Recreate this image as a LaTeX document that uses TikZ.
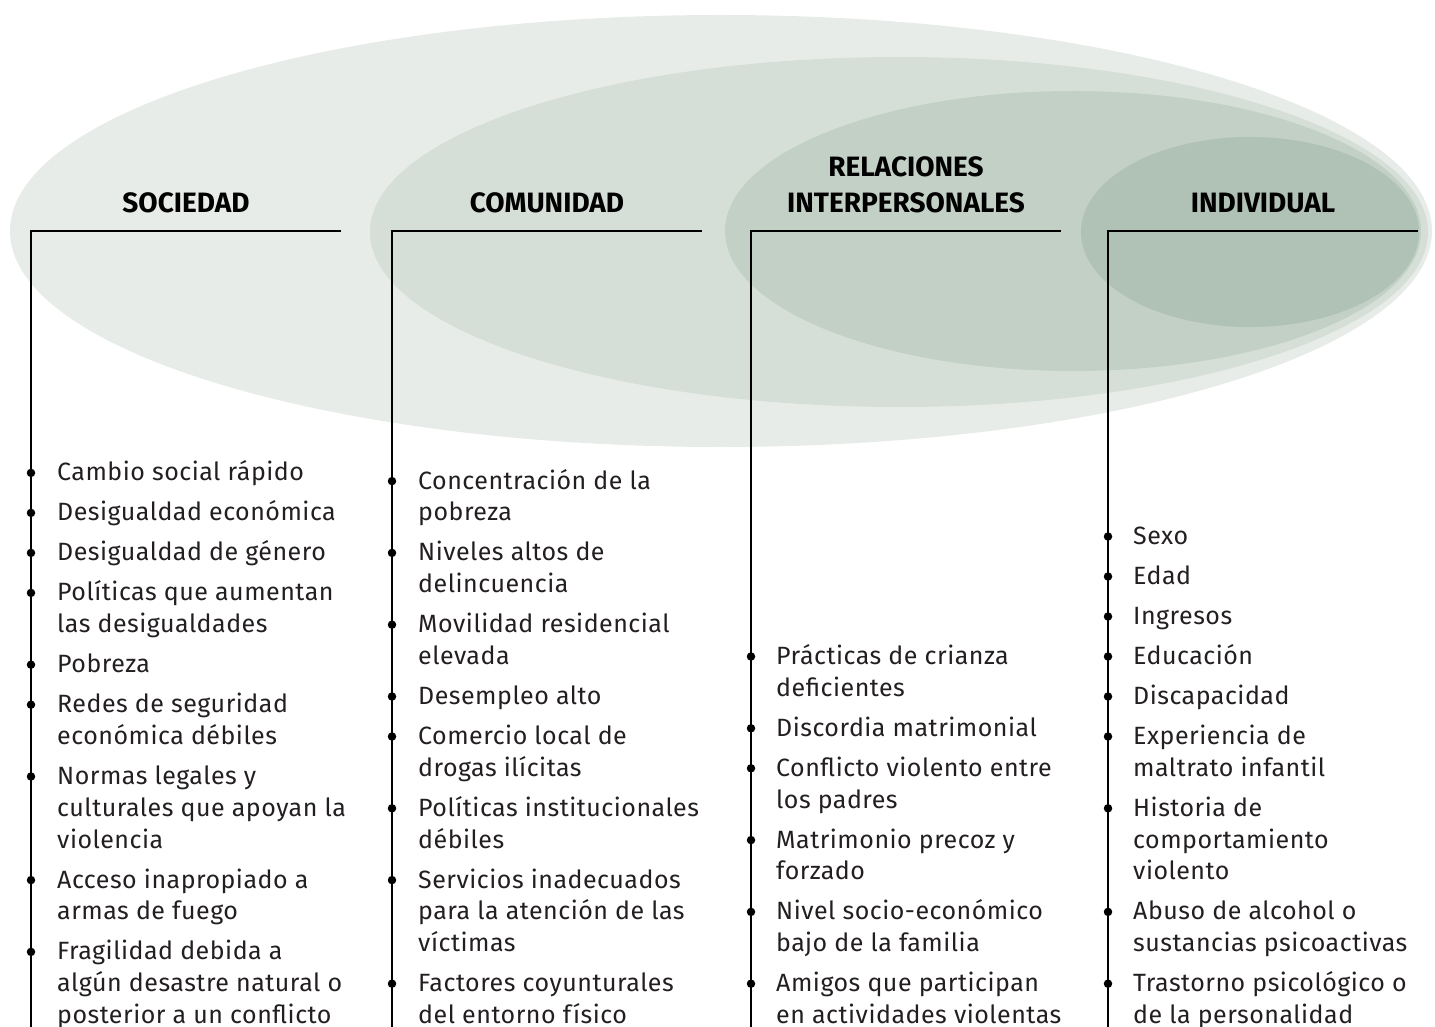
\documentclass[tikz,border=0pt]{standalone}
\usepackage{fontspec}
\setmainfont{Fira Sans}
\newfontfamily\bodyfont[LetterSpace=2]{Fira Sans}
\newfontfamily\headfont{Fira Sans}
\definecolor{ringA}{RGB}{232,236,232}
\definecolor{ringB}{RGB}{213,223,216}
\definecolor{ringC}{RGB}{194,208,198}
\definecolor{ringD}{RGB}{176,193,181}
\definecolor{txt}{RGB}{35,31,32}
\tikzset{
  head/.style={font=\headfont\bfseries\fontsize{28}{36}\selectfont, text=black, align=center, anchor=base, inner sep=0pt},
  item/.style={font=\bodyfont\fontsize{25}{31.8}\selectfont, text=txt, align=left, anchor=base west, inner sep=0pt},
  rule/.style={line width=1.8pt, black},
  dot/.style={circle, fill=black, inner sep=0pt, minimum size=8.5pt},
}
\begin{document}
\begin{tikzpicture}[x=1pt,y=-1pt]
\useasboundingbox (0,0) rectangle (1435,1027);
% rings
\fill[ringA] (721,231) ellipse [x radius=711pt, y radius=216pt];
\fill[ringB] (899,232) ellipse [x radius=529pt, y radius=175pt];
\fill[ringC] (1073,231) ellipse [x radius=348pt, y radius=140pt];
\fill[ringD] (1250,232) ellipse [x radius=169pt, y radius=95pt];
% headers (base = last line)
\node[head] (hS) at (186,213) {SOCIEDAD};
\node[head] (hC) at (547,213) {COMUNIDAD};
\node[head] (hR) at (906,213) {RELACIONES\\INTERPERSONALES};
\node[head] (hI) at (1263,213) {INDIVIDUAL};
% brackets
\coordinate (sR) at (341,231); \coordinate (sC) at (31,231); \coordinate (sB) at (31,1040);
\coordinate (cR) at (702,231); \coordinate (cC) at (392,231); \coordinate (cB) at (392,1040);
\coordinate (rR) at (1061,231); \coordinate (rC) at (751,231); \coordinate (rB) at (751,1040);
\coordinate (iR) at (1418,231); \coordinate (iC) at (1108,231); \coordinate (iB) at (1108,1040);
\draw[rule] (sR) -- (sC) -- (sB);
\draw[rule] (cR) -- (cC) -- (cB);
\draw[rule] (rR) -- (rC) -- (rB);
\draw[rule] (iR) -- (iC) -- (iB);
% SOCIEDAD
\foreach \n/\y/\k/\t in {
  1/472.9/1/{Cambio social rápido},
  2/512.9/1/{Desigualdad económica},
  3/552.9/1/{Desigualdad de género},
  4/592.9/2/{Políticas que aumentan\\las desigualdades},
  5/664.7/1/{Pobreza},
  6/704.7/2/{Redes de seguridad\\económica débiles},
  7/776.5/3/{Normas legales y\\culturales que apoyan la\\violencia},
  8/880.1/2/{Acceso inapropiado a\\armas de fuego},
  9/951.9/3/{Fragilidad debida a\\algún desastre natural o\\posterior a un conflicto}}{
  \node[dot] (sd\n) at (31,\y) {};
  \node[item] (s\n) at (57,\y+8+\k*31.8-31.8) {\t};
}
% COMUNIDAD
\foreach \n/\y/\k/\t in {
  1/481.1/2/{Concentración de la\\pobreza},
  2/552.9/2/{Niveles altos de\\delincuencia},
  3/624.7/2/{Movilidad residencial\\elevada},
  4/696.5/1/{Desempleo alto},
  5/736.5/2/{Comercio local de\\drogas ilícitas},
  6/808.3/2/{Políticas institucionales\\débiles},
  7/880.1/3/{Servicios inadecuados\\para la atención de las\\víctimas},
  8/983.7/2/{Factores coyunturales\\del entorno físico}}{
  \node[dot] (cd\n) at (392,\y) {};
  \node[item] (c\n) at (418,\y+8+\k*31.8-31.8) {\t};
}
% RELACIONES
\foreach \n/\y/\k/\t in {
  1/656.5/2/{Prácticas de crianza\\deficientes},
  2/728.3/1/{Discordia matrimonial},
  3/768.3/2/{Conflicto violento entre\\los padres},
  4/840.1/2/{Matrimonio precoz y\\forzado},
  5/911.9/2/{Nivel socio-económico\\bajo de la familia},
  6/983.7/2/{Amigos que participan\\en actividades violentas}}{
  \node[dot] (rd\n) at (751,\y) {};
  \node[item] (r\n) at (776,\y+8+\k*31.8-31.8) {\t};
}
% INDIVIDUAL
\foreach \n/\y/\k/\t in {
  1/536.5/1/{Sexo},
  2/576.5/1/{Edad},
  3/616.5/1/{Ingresos},
  4/656.5/1/{Educación},
  5/696.5/1/{Discapacidad},
  6/736.5/2/{Experiencia de\\maltrato infantil},
  7/808.3/3/{Historia de\\comportamiento\\violento},
  8/911.9/2/{Abuso de alcohol o\\sustancias psicoactivas},
  9/983.7/2/{Trastorno psicológico o\\de la personalidad}}{
  \node[dot] (id\n) at (1108,\y) {};
  \node[item] (i\n) at (1133,\y+8+\k*31.8-31.8) {\t};
}
\end{tikzpicture}
\end{document}
